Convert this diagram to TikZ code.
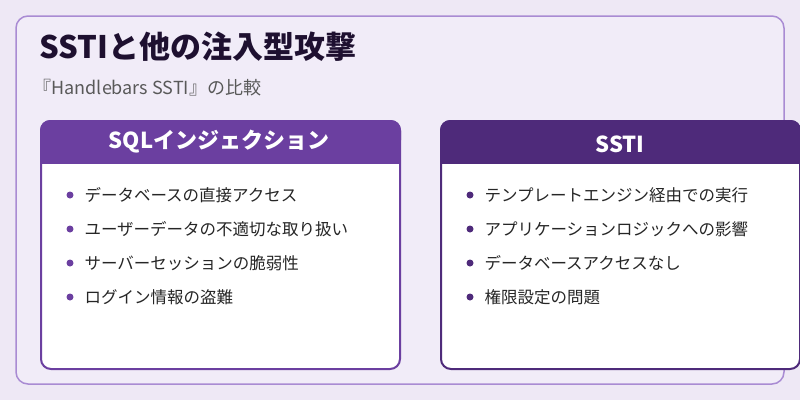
\documentclass[tikz,border=0pt]{standalone}
\usepackage{fontspec}
\setmainfont{Noto Sans CJK JP}
\begin{document}
\begin{tikzpicture}[x=1pt,y=-1pt,
  item/.style={anchor=west,font=\fontsize{16.5}{18}\selectfont,text=black!85},
  dot/.style={circle,fill=mypurple,inner sep=0pt,minimum size=7pt}]
\definecolor{bg}{HTML}{EEE8F5}
\definecolor{panel}{HTML}{F1ECF8}
\definecolor{pborder}{HTML}{A98BD3}
\definecolor{mypurple}{HTML}{6B3FA0}
\definecolor{dpurple}{HTML}{4E2A7A}
\definecolor{titlec}{HTML}{1E1030}
\fill[bg] (0,0) rectangle (800,400);
\useasboundingbox (0,0) rectangle (800,400);
\draw[pborder,fill=panel,line width=1.5pt,rounded corners=12pt] (16,16) rectangle (784,384);
\node[anchor=west,font=\fontsize{31}{34}\selectfont\bfseries,text=titlec] (title) at (36,47) {SSTIと他の注入型攻撃};
\node[anchor=west,font=\fontsize{18}{20}\selectfont,text=black!65] (sub) at (30,88) {『Handlebars SSTI』の比較};
% left card
\draw[mypurple,fill=white,line width=2pt,rounded corners=10pt] (41,121) rectangle (400,369);
\fill[mypurple,rounded corners=10pt] (40,120) rectangle (401,150);
\fill[mypurple] (40,140) rectangle (401,164);
\node[font=\fontsize{22}{26}\selectfont\bfseries,text=white] (lh) at (219,142) {SQLインジェクション};
% right card
\draw[dpurple,fill=white,line width=2pt,rounded corners=10pt] (441,121) rectangle (800,369);
\fill[dpurple,rounded corners=10pt] (440,120) rectangle (801,150);
\fill[dpurple] (440,140) rectangle (801,164);
\node[font=\fontsize{22}{26}\selectfont\bfseries,text=white] (rh) at (620,144) {SSTI};
\foreach \t [count=\i] in {データベースの直接アクセス,ユーザーデータの不適切な取り扱い,サーバーセッションの脆弱性,ログイン情報の盗難}{
  \node[dot] (ld\i) at (70,161+34*\i) {};
  \node[item] (lt\i) at (81,161+34*\i) {\t};
}
\foreach \t [count=\i] in {テンプレートエンジン経由での実行,アプリケーションロジックへの影響,データベースアクセスなし,権限設定の問題}{
  \node[dot,fill=dpurple] (rd\i) at (470,161+34*\i) {};
  \node[item] (rt\i) at (481,161+34*\i) {\t};
}
\end{tikzpicture}
\end{document}
